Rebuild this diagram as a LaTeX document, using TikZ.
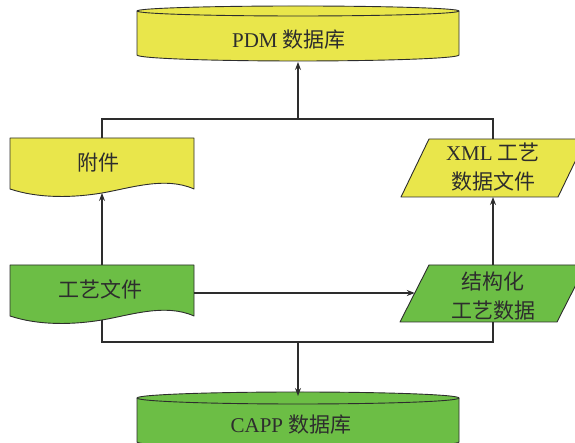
\documentclass[tikz,border=0pt]{standalone}
\usepackage{fontspec}
\setmainfont{Liberation Serif}
\newfontfamily\cjk{Noto Sans CJK SC}
\usetikzlibrary{arrows.meta}
\definecolor{yel}{RGB}{233,230,75}
\definecolor{grn}{RGB}{108,190,69}
\definecolor{ink}{RGB}{45,45,45}
\begin{document}
\begin{tikzpicture}[x=1pt,y=1pt,
  shapeline/.style={draw=ink, line width=0.9pt, line join=round},
  conn/.style={draw=ink, line width=1.1pt},
  arr/.style={conn, -{Stealth[length=8pt,width=6pt]}},
  lbl/.style={text=ink, font=\fontsize{21}{29}\selectfont, align=center, inner sep=0pt},
  cjklbl/.style={lbl, font=\fontsize{21}{29}\selectfont\cjk}]
\useasboundingbox (0,0) rectangle (575,443);

% PDM database
\draw[shapeline, fill=yel] (137,432) -- (137,388)
  arc[start angle=180,end angle=360,x radius=161pt,y radius=6pt] -- (459,432)
  arc[start angle=0,end angle=180,x radius=161pt,y radius=5pt] -- cycle;
\draw[shapeline] (137,432) arc[start angle=180,end angle=360,x radius=161pt,y radius=5pt];

% attachment (document)
\draw[shapeline, fill=yel] (10,305) -- (10,254)
  .. controls (40,244) and (75,245.5) .. (102,250)
  .. controls (129,254.5) and (165,267) .. (194,254) -- (194,305) -- cycle;

% process file (document)
\draw[shapeline, fill=grn, shift={(0,-127)}] (10,305) -- (10,254)
  .. controls (40,244) and (75,245.5) .. (102,250)
  .. controls (129,254.5) and (165,267) .. (194,254) -- (194,305) -- cycle;

% XML parallelogram
\draw[shapeline, fill=yel] (401,246) -- (429,304) -- (586,304) -- (558,246) -- cycle;
% structured data parallelogram
\draw[shapeline, fill=grn] (400,121) -- (429,178) -- (586,178) -- (557,121) -- cycle;

% CAPP database
\draw[shapeline, fill=grn] (137,45) -- (137,1)
  arc[start angle=180,end angle=360,x radius=161pt,y radius=6pt] -- (459,45)
  arc[start angle=0,end angle=180,x radius=161pt,y radius=6pt] -- cycle;
\draw[shapeline] (137,45) arc[start angle=180,end angle=360,x radius=161pt,y radius=6pt];

% labels
\node[lbl] (pdm) at (289,403) {PDM {\cjk 数据库}};
\node[cjklbl] (fj) at (98,280) {附件};
\node[lbl] (xml) at (493,275.5) {XML {\cjk 工艺}\\{\cjk 数据文件}};
\node[cjklbl] (gy) at (100,154) {工艺文件};
\node[cjklbl] (jg) at (493,147) {结构化\\工艺数据};
\node[lbl] (capp) at (291,18) {CAPP {\cjk 数据库}};

% anchor coordinates
\coordinate (pdmB) at (298,381);
\coordinate (fjT) at (102,305);
\coordinate (fjB) at (102,250);
\coordinate (gyT) at (102,178);
\coordinate (gyB) at (102,123);
\coordinate (gyR) at (194,150);
\coordinate (xmlT) at (493,304);
\coordinate (xmlB) at (493,246);
\coordinate (jgT) at (493,178);
\coordinate (jgB) at (493,121);
\coordinate (jgL) at (414.8,150);
\coordinate (cappT) at (298,47);
\coordinate (topJ) at (298,324);
\coordinate (botJ) at (298,101);

% connectors
\draw[conn] (fjT) |- (topJ) -| (xmlT);
\draw[arr] (topJ) -- (pdmB);
\draw[arr] (gyT) -- (fjB);
\draw[arr] (jgT) -- (xmlB);
\draw[arr] (gyR) -- (jgL);
\draw[conn] (gyB) |- (botJ) -| (jgB);
\draw[arr] (botJ) -- (cappT);
\end{tikzpicture}
\end{document}
